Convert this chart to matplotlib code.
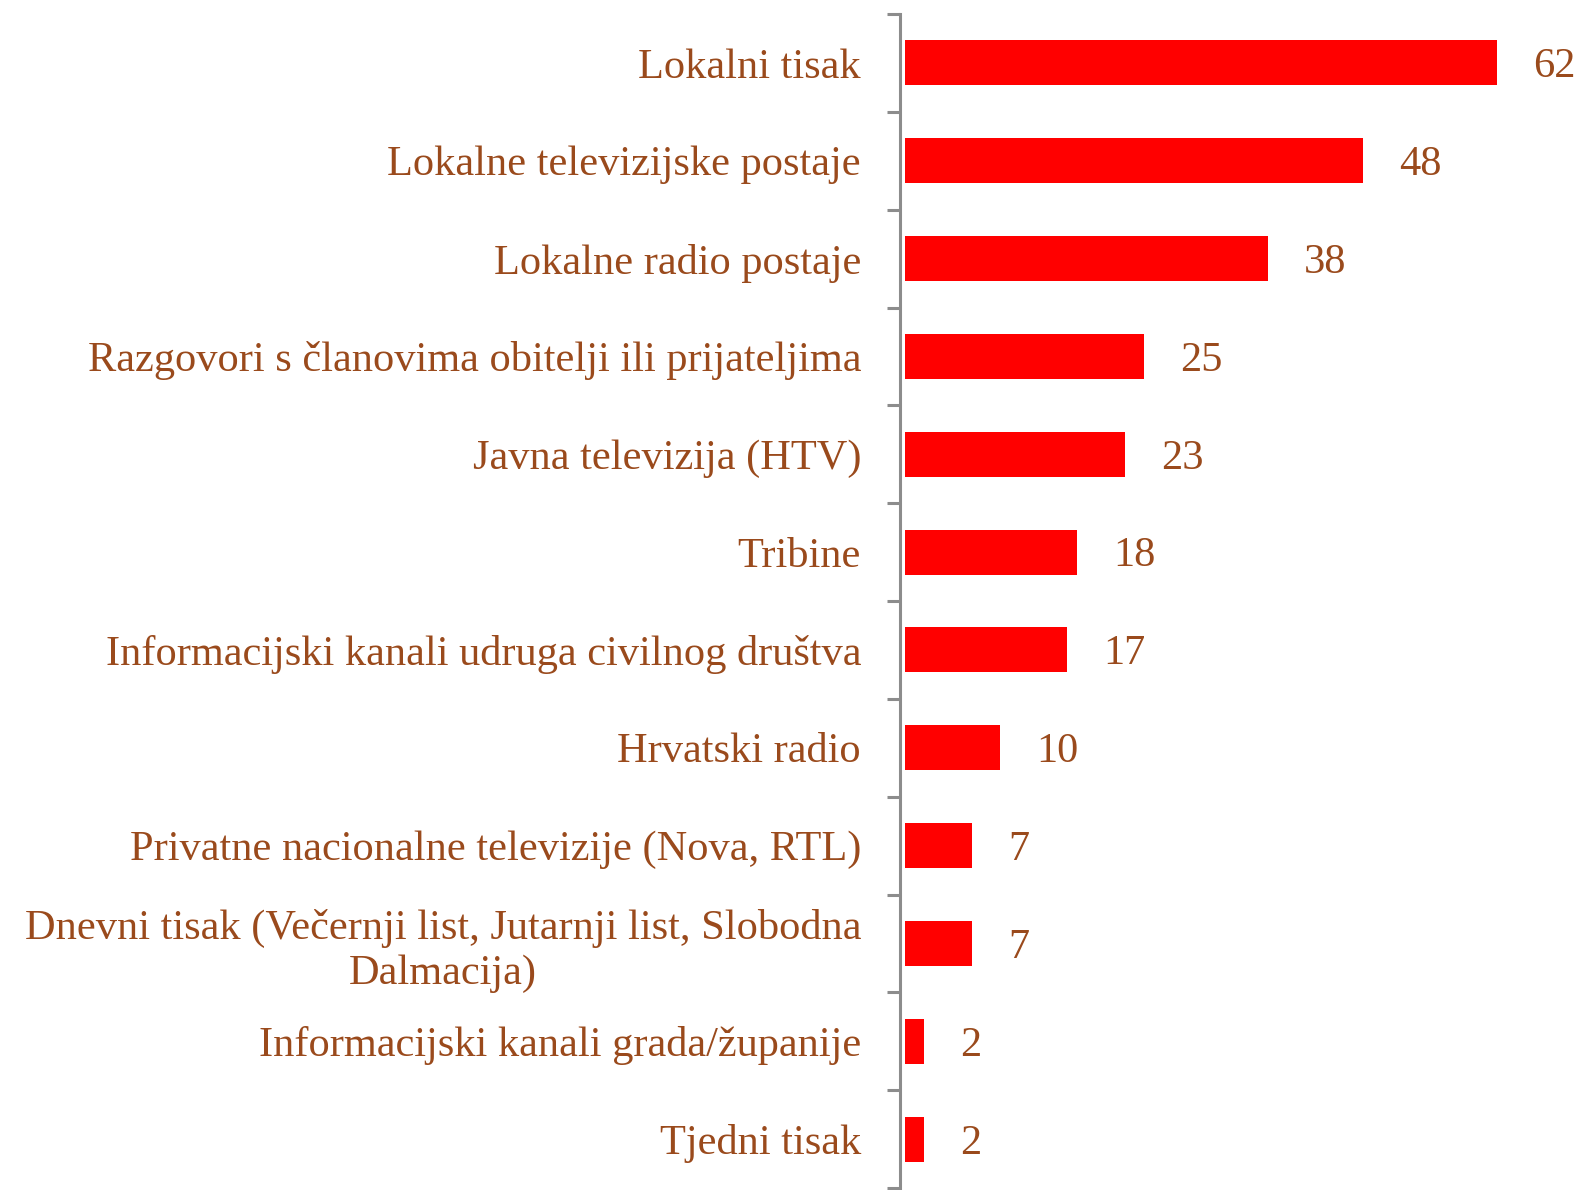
import matplotlib
matplotlib.use("Agg")
import matplotlib.pyplot as plt
import numpy as np

categories = [
    "Lokalni tisak",
    "Lokalne televizijske postaje",
    "Lokalne radio postaje",
    "Razgovori s članovima obitelji ili prijateljima",
    "Javna televizija (HTV)",
    "Tribine",
    "Informacijski kanali udruga civilnog društva",
    "Hrvatski radio",
    "Privatne nacionalne televizije (Nova, RTL)",
    "Dnevni tisak (Večernji list, Jutarnji list, Slobodna\nDalmacija)",
    "Informacijski kanali grada/županije",
    "Tjedni tisak",
]
values = [62, 48, 38, 25, 23, 18, 17, 10, 7, 7, 2, 2]

text_color = "#9A4A1C"
bar_color = "#FF0000"
axis_color = "#8C8C8C"

plt.rcParams["font.family"] = ["Liberation Serif", "DejaVu Serif"]

fig = plt.figure(figsize=(15.77, 11.90), dpi=100)
ax = fig.add_axes([900 / 1577, 2 / 1190, 1 - 900 / 1577, 1 - 16 / 1190])

y = np.arange(len(categories))
ax.barh(y, values, height=0.46, color=bar_color, left=0)

ax.set_ylim(len(categories) - 0.5, -0.5)
ax.set_xlim(-0.52, 70.4)

for spine in ("top", "right", "bottom"):
    ax.spines[spine].set_visible(False)
ax.spines["left"].set_color(axis_color)
ax.spines["left"].set_linewidth(2.2)
ax.set_xticks([])

ax.set_yticks(y)
labels = ax.set_yticklabels(categories, fontsize=30.5, color=text_color)
for lab in labels:
    lab.set_multialignment("center")
ax.tick_params(axis="y", which="major", length=0, pad=28)
ax.set_yticks(np.arange(-0.5, len(categories) + 0.5, 1.0), minor=True)
ax.tick_params(axis="y", which="minor", length=9.5, width=2.2, color=axis_color, direction="out")

for yi, v in zip(y, values):
    ax.annotate(str(v), (v, yi), xytext=(26, -3), textcoords="offset points",
                va="center", ha="left", fontsize=30.5, color=text_color,
                annotation_clip=False)

fig.savefig("out.png", dpi=100)
